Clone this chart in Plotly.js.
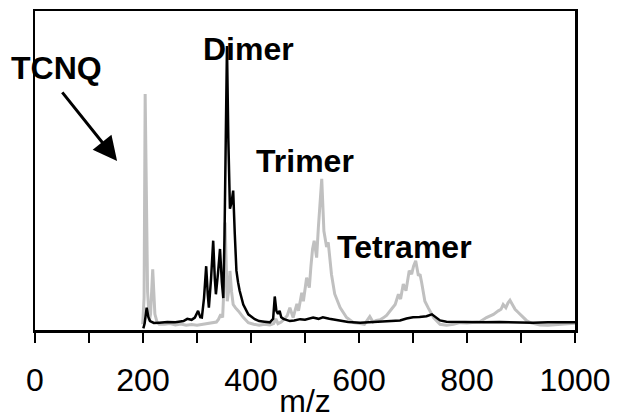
<!DOCTYPE html>
<html>
<head>
<meta charset="utf-8">
<script src="https://cdn.plot.ly/plotly-3.0.1.min.js"></script>
<style>html,body{margin:0;padding:0;background:#fff;}#chart{width:618px;height:419px;}</style>
</head>
<body>
<div id="chart"></div>
<script>
// Black spectrum (m/z, intensity)
const blackX = [200.6,203,206.8,210,213,220,230,245,260,275,282,290,296,302,306,309,313,317,320,322,326,330,333,335,339,342.6,346,348.7,351,353,355.5,358,361,364,367,370,373,376,379,385.7,395,407,415,425,435,441,444,447,450,453,456,460,466,472,480,491,500,515,525,533,545,555,565,580,602,620,640,660,676,688,700,712,725,735,742,750,762,780,800,830,860,890,922,950,980,1000];
const blackY = [0.5,2,7,4,2.8,2.2,2.3,2.5,2.4,2.8,3.5,3.2,3.9,6,4,3.9,10,20,11,7,16,28,16,11.2,18,25.4,15,10,30,65,89,60,38,40,43.7,30,18.6,15,12.3,8,4.9,3.4,2.8,2.6,2.4,3.5,10.5,6,5,6,4,3.5,3.2,2.8,3,3.4,3.2,3.9,3.5,4,3.5,3.2,2.8,2.5,2.3,2.5,2.8,3,3,3.6,4,4.1,4.3,4.9,4,3,2.6,2.5,2.6,2.4,2.5,2.3,2.3,2.4,2.5,2.4];

// Gray spectrum (m/z, intensity)
const grayX = [199.4,202,204,206,208.5,211.7,214,216,218,220,222,226,230,240,250,260,270,280,290,300,310,320,330,336,340,344,347.5,349.5,352,354,356,358.5,361,364,367,371,376.5,386,395,405,415,425,435,442,446,450,456,462,467,472,478,485,488,494,497,503,508,511,514,517,521.6,524.7,528,531,535,540,543,549,555,565,577,590,602,610,620,626,632,639,645,651,660,667,673,677,682,687,693,697.5,701,705,710,713,716,722,728,738,750,762,775,787,800,812,824,836,849,858,863,867,872,876,879.6,884,889,895,901,910,917,935,950,965,980,1000];
const grayY = [1.8,10,74,45,12,2.8,5,12,19,12,5,2.5,1.8,1.8,2,1.6,1.9,1.5,1.7,1.5,1.8,1.9,2.2,2.5,3.4,4.9,3.9,12,33.7,20,9,12,18.5,12,8,7,6,3.9,2.3,1.8,1.5,1.8,1.6,2,3.5,2,2.5,3.5,4.5,7,3.9,8.2,6,11.7,9,16.4,13.3,20,25.4,28,22.7,32,40,47.4,31,26,27.5,17.5,11.3,7,3.9,2.3,2,1.8,4.2,2.5,3,3.2,3.8,4.6,6.5,8,11.2,9.7,14.4,12.3,18.6,17.5,20,21.7,17,17.5,14.9,9,7,3.9,1.8,1.5,1.8,2.3,2.2,2.4,2.6,3.9,4.9,6,6.5,8,7,8.5,9.3,8,6.5,5.5,4.4,3,2.3,1.6,1.5,1.7,1.8,2.1];

const tickVals = [0,200,400,600,800,1000];
const tickLabels = ['0','200','400','600','800','1000'];
const labelTexts = ['TCNQ','Dimer','Trimer','Tetramer'];
const labelX = [40,395,500,685];
const labelY = [82,88,53,26];

const traces = [
  {x: grayX, y: grayY, type: 'scatter', mode: 'lines', line: {color: '#c0c0c0', width: 3}, hoverinfo: 'skip'},
  {x: blackX, y: blackY, type: 'scatter', mode: 'lines', line: {color: '#000000', width: 2.5}, hoverinfo: 'skip'}
];

const annotations = labelTexts.map((t, i) => ({
  x: labelX[i], y: labelY[i], xref: 'x', yref: 'y', text: t, showarrow: false,
  font: {family: 'Liberation Sans, Arial, sans-serif', size: 32, color: '#000', weight: 'bold'}
}));
annotations.push({
  x: 152, y: 53, xref: 'x', yref: 'y', text: '', showarrow: true,
  ax: -56, ay: -70, arrowhead: 2, arrowsize: 1.6, arrowwidth: 3, arrowcolor: '#000'
});

const layout = {
  width: 618, height: 419,
  margin: {l: 35, r: 43, t: 11, b: 89},
  paper_bgcolor: '#fff', plot_bgcolor: '#fff',
  showlegend: false,
  font: {family: 'Liberation Sans, Arial, sans-serif', color: '#000'},
  xaxis: {
    range: [0, 1000], showgrid: false, zeroline: false,
    showline: true, linecolor: '#000', linewidth: 2.5, mirror: true,
    tickvals: tickVals, ticktext: tickLabels,
    ticks: 'outside', ticklen: 10, tickwidth: 2, tickcolor: '#000',
    ticklabelstandoff: 10,
    minor: {dtick: 100, tick0: 0, ticks: 'outside', ticklen: 10, tickwidth: 2, tickcolor: '#000'},
    tickfont: {size: 32, color: '#000'},
    title: {text: 'm/z', font: {size: 32, color: '#000'}, standoff: 5}
  },
  yaxis: {
    range: [0, 100], showgrid: false, zeroline: false,
    showline: true, linecolor: '#000', linewidth: 2.5, mirror: true,
    showticklabels: false, ticks: ''
  },
  annotations: annotations
};

Plotly.newPlot('chart', traces, layout, {staticPlot: true, displayModeBar: false});
</script>
</body>
</html>
